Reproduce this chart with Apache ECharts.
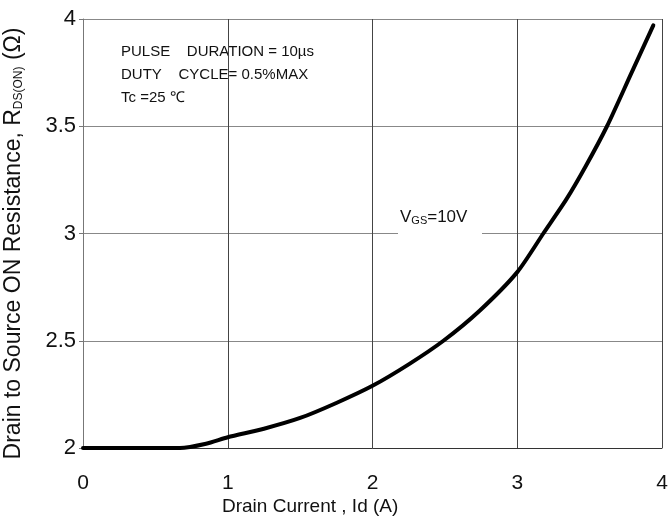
<!DOCTYPE html>
<html>
<head>
<meta charset="utf-8">
<script src="https://cdn.jsdelivr.net/npm/echarts@6/dist/echarts.min.js"></script>
<style>
  html, body { margin: 0; padding: 0; background: #fff; }
  #chart { width: 672px; height: 520px; }
</style>
</head>
<body>
<div id="chart"></div>
<script>
// Drain current (A) vs R_DS(ON) (ohm)
const drainCurrent = [0, 0.35, 0.67, 0.85, 1.0, 1.25, 1.5, 1.75, 2.0, 2.25, 2.49, 2.74, 3.0, 3.18, 3.34, 3.47, 3.62, 3.79, 3.94];
const resistance   = [2.0, 2.0, 2.0, 2.02, 2.05, 2.09, 2.14, 2.21, 2.29, 2.39, 2.5, 2.64, 2.82, 3.0, 3.16, 3.31, 3.5, 3.75, 3.97];

const xTicks = [0, 1, 2, 3, 4];
const yTicks = [2, 2.5, 3, 3.5, 4];

const FONT = 'Liberation Sans, Arial, sans-serif';

const chart = echarts.init(document.getElementById('chart'));

const option = {
  backgroundColor: '#fff',
  animation: false,
  grid: { left: 83, top: 19, right: 10, bottom: 72, containLabel: false, outerBoundsMode: 'none' },
  xAxis: {
    type: 'value',
    min: xTicks[0],
    max: xTicks[xTicks.length - 1],
    interval: 1,
    axisLine: { show: true, lineStyle: { color: '#333', width: 1 } },
    axisTick: { show: false },
    axisLabel: { fontFamily: FONT, fontSize: 21, color: '#111', margin: 25 },
    splitLine: { show: true, lineStyle: { color: '#444', width: 1 } }
  },
  yAxis: {
    type: 'value',
    min: yTicks[0],
    max: yTicks[yTicks.length - 1],
    interval: 0.5,
    name: '{n|Drain to Source ON Resistance, R}{s|DS(ON)}{n| (Ω)}',
    nameLocation: 'middle',
    nameRotate: 90,
    nameGap: 58,
    nameTextStyle: {
      padding: [0, 20, 0, 0],
      rich: {
        n: { fontFamily: FONT, fontSize: 23, color: '#111' },
        s: { fontFamily: FONT, fontSize: 12, color: '#111', padding: [10, 0, 0, 0] }
      }
    },
    axisLine: { show: true, lineStyle: { color: '#777', width: 1 } },
    axisTick: { show: true, inside: false, length: 4, lineStyle: { color: '#777' } },
    axisLabel: { fontFamily: FONT, fontSize: 22, color: '#111', margin: 7 },
    splitLine: { show: true, lineStyle: { color: '#888', width: 1 } }
  },
  series: [
    {
      name: 'VGS=10V',
      type: 'line',
      data: drainCurrent.map((x, i) => [x, resistance[i]]),
      smooth: 0.25,
      showSymbol: false,
      lineStyle: { color: '#000', width: 4, cap: 'round' },
      z: 5
    }
  ],
  graphic: [
    {
      type: 'text', left: 121, top: 44,
      style: { text: 'PULSE    DURATION = 10µs', fontFamily: FONT, fontSize: 15, fill: '#111' }
    },
    {
      type: 'text', left: 121, top: 67,
      style: { text: 'DUTY    CYCLE= 0.5%MAX', fontFamily: FONT, fontSize: 15, fill: '#111' }
    },
    {
      type: 'text', left: 121, top: 90,
      style: { text: 'Tc =25 ℃', fontFamily: FONT, fontSize: 15, fill: '#111' }
    },
    {
      type: 'rect', left: 398, top: 227,
      shape: { width: 84, height: 14 },
      style: { fill: '#fff' }, z: 3
    },
    {
      type: 'text', left: 400, top: 209, z: 4,
      style: {
        text: '{v|V}{s|GS}{v|=10V}',
        rich: {
          v: { fontFamily: FONT, fontSize: 17, fill: '#111' },
          s: { fontFamily: FONT, fontSize: 11, fill: '#111', padding: [6, 0, 0, 0] }
        }
      }
    },
    {
      type: 'text', left: 222, top: 497,
      style: { text: 'Drain Current , Id (A)', fontFamily: FONT, fontSize: 19, fill: '#111' }
    }
  ]
};

chart.setOption(option);
</script>
</body>
</html>
